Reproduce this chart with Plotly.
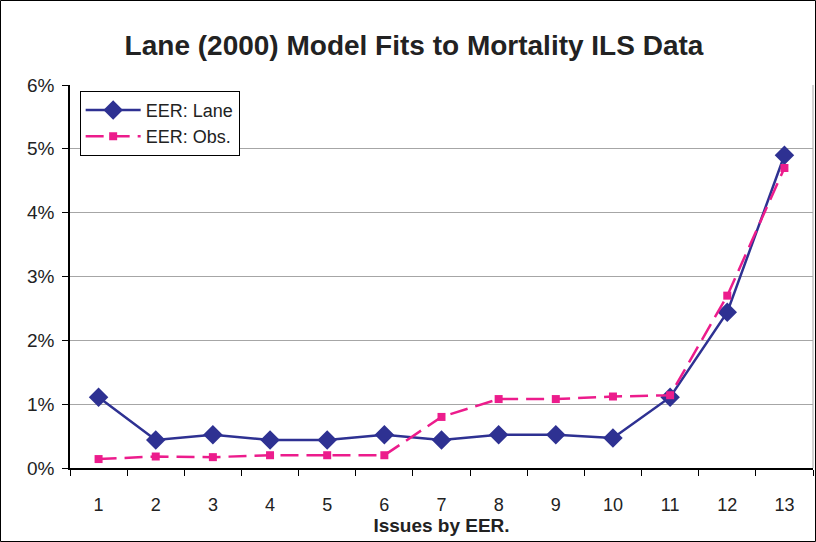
import plotly.graph_objects as go

# Data
issues = [str(i) for i in range(1, 14)]
eer_lane = [1.11, 0.44, 0.52, 0.44, 0.44, 0.52, 0.44, 0.52, 0.52, 0.47, 1.11, 2.44, 4.90]
eer_obs = [0.14, 0.18, 0.17, 0.20, 0.20, 0.20, 0.80, 1.08, 1.08, 1.12, 1.14, 2.70, 4.70]
y_ticks = [0, 1, 2, 3, 4, 5, 6]
y_labels = ['0%', '1%', '2%', '3%', '4%', '5%', '6%']

NAVY = '#2E3192'
MAGENTA = '#EC1C8C'
FONT = 'Liberation Sans, Arial, sans-serif'

fig = go.Figure()

fig.add_trace(go.Scatter(
    x=issues, y=eer_lane, name='EER: Lane',
    mode='lines+markers',
    line=dict(color=NAVY, width=2.5),
    marker=dict(symbol='diamond', size=15, color=NAVY),
))

fig.add_trace(go.Scatter(
    x=issues, y=eer_obs, name='EER: Obs.',
    mode='lines+markers',
    line=dict(color=MAGENTA, width=2.5, dash='18px,8px'),
    marker=dict(symbol='square', size=8, color=MAGENTA),
))

fig.update_layout(
    width=816, height=542,
    margin=dict(l=70, r=3, t=85, b=74),
    paper_bgcolor='white',
    plot_bgcolor='white',
    font=dict(family=FONT, size=18, color='#222222'),
    title=dict(
        text='<b>Lane (2000) Model Fits to Mortality ILS Data</b>',
        x=414 / 816, xref='container', xanchor='center',
        y=1 - 45 / 542, yref='container', yanchor='middle',
        font=dict(size=28, color='#222222'),
    ),
    showlegend=True,
    legend=dict(
        x=0.013, y=0.985, xanchor='left', yanchor='top',
        bgcolor='white', bordercolor='black', borderwidth=1,
        font=dict(size=18, color='#222222'),
        tracegroupgap=0,
        itemwidth=55,
    ),
    xaxis=dict(
        type='category',
        range=[-0.5, 12.5],
        tickson='boundaries',
        ticks='outside', ticklen=6, tickcolor='black',
        ticklabelstandoff=20,
        showline=True, linecolor='black', linewidth=1.5,
        showgrid=False,
        title=dict(text='<b>Issues by EER.</b>', font=dict(size=19), standoff=3),
    ),
    yaxis=dict(
        range=[0, 6],
        tickvals=y_ticks, ticktext=y_labels,
        ticks='outside', ticklen=6, tickcolor='black',
        ticklabelstandoff=4,
        tickfont=dict(size=19),
        showline=True, linecolor='black', linewidth=1.5,
        showgrid=True, gridcolor='#A6A6A6', gridwidth=1,
        zeroline=False,
    ),
)

# right border of the plot area
fig.add_shape(type='line', xref='paper', yref='paper',
              x0=1, x1=1, y0=0, y1=1, line=dict(color='#A6A6A6', width=1))
# frame around the whole chart
fig.add_shape(type='rect', xref='paper', yref='paper',
              x0=-69.5 / 743, x1=1 + 2.5 / 743, y0=-73.5 / 383, y1=1 + 84.5 / 383,
              line=dict(color='black', width=1))

fig.write_html('out.html', config={'displayModeBar': False},
               post_script="document.body.style.margin='0';")
